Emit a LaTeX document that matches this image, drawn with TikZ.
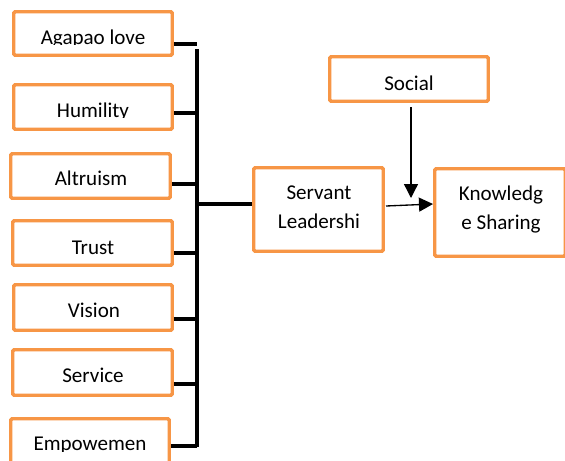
\documentclass[tikz,border=0pt]{standalone}
\usepackage{fontspec}
\setmainfont{Carlito}
\usetikzlibrary{arrows.meta}
\definecolor{orng}{HTML}{F79646}
\newcommand\obox[5]{\node[box, minimum width={(#4-#2-3.5)*0.75pt}, minimum height={(#5-#3-3.5)*0.75pt}] (#1) at ({(#2+#4)/2},{(#3+#5)/2}) {};}
\begin{document}
\begin{tikzpicture}[x=0.75pt,y=-0.75pt,
  box/.style={draw=orng, line width=2.6pt, rounded corners=1pt, inner sep=0pt, fill=white},
  lbl/.style={font=\fontsize{15.8}{22}\selectfont, anchor=base, inner sep=0pt},
  bar/.style={line width=2.3pt, draw=black},
  arr/.style={line width=1pt, draw=black, -{Triangle[length=10.5pt,width=10.5pt]}}]
\useasboundingbox (0,0) rectangle (565,461);
\clip (0,0) rectangle (565,461);
% boxes
\obox{ag}{12}{10}{174}{57}
\obox{hu}{12}{83}{174}{131}
\obox{al}{9}{152}{172}{200}
\obox{tr}{11}{219}{174}{267}
\obox{vi}{12}{283}{174}{332}
\obox{se}{11}{348}{174}{397}
\obox{em}{9}{417}{171}{478}
\obox{sv}{252}{166}{385}{253}
\obox{kn}{433}{167}{567}{258}
\obox{so}{328}{55}{490}{103}
% texts
\begin{scope}
\clip (0,0) rectangle (565,44.3);
\node[lbl] (tag) at (93,44) {Agapao love};
\end{scope}
\begin{scope}
\clip (0,60) rectangle (565,117.5);
\node[lbl] (thu) at (93,117) {Humility};
\end{scope}
\node[lbl] (tal) at (91,185) {Altruism};
\node[lbl] (ttr) at (93,254) {Trust};
\node[lbl] (tvi) at (94,317) {Vision};
\node[lbl] (tse) at (93,382) {Service};
\begin{scope}
\clip (0,400) rectangle (565,451);
\node[lbl] (tem) at (90,450) {Empowemen};
\end{scope}
\node[lbl] (tso) at (409,90) {Social};
\node[lbl] (tsv1) at (319,199) {Servant};
\node[lbl] (tsv2) at (319,228) {Leadershi};
\node[lbl] (tkn1) at (501,200) {Knowledg};
\node[lbl] (tkn2) at (501,229) {e Sharing};
% bracket
\coordinate (c1) at (197,44);
\coordinate (c2) at (197,113);
\coordinate (c3) at (197,184);
\coordinate (c4) at (197,253);
\coordinate (c5) at (197,319);
\coordinate (c6) at (197,384);
\coordinate (c7) at (197,446);
\coordinate (btop) at (197,49);
\coordinate (bm) at (197,204);
\draw[bar] (btop) -- ([yshift=-0.9pt]c7);
\draw[bar] (ag.east |- c1) -- (c1);
\draw[bar] (hu.east |- c2) -- (c2);
\draw[bar] (al.east |- c3) -- (c3);
\draw[bar] (tr.east |- c4) -- (c4);
\draw[bar] (vi.east |- c5) -- (c5);
\draw[bar] (se.east |- c6) -- (c6);
\draw[bar] (em.east |- c7) -- (c7);
\draw[bar] (bm) -- (sv.west |- bm);
% arrows
\coordinate (a1) at (386,206);
\coordinate (a2) at (433,204);
\draw[arr] (a1) -- (a2);
\coordinate (s1) at (411,107);
\coordinate (s2) at (411,198);
\draw[arr] (s1) -- (s2);
\end{tikzpicture}
\end{document}
